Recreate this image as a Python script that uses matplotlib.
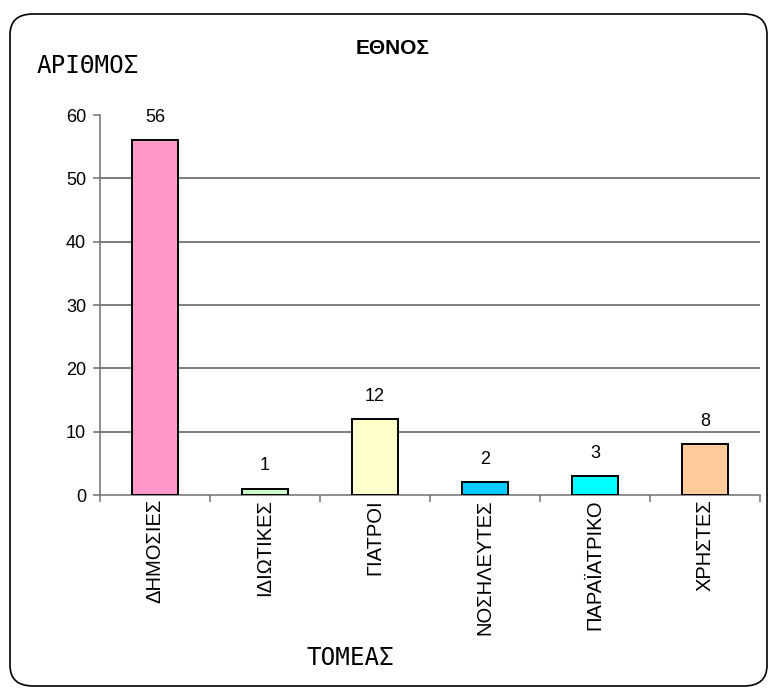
import matplotlib
matplotlib.use("Agg")
import matplotlib.pyplot as plt
from matplotlib.patches import FancyBboxPatch

# Données
categories = ["ΔΗΜΟΣΙΕΣ", "ΙΔΙΩΤΙΚΕΣ", "ΓΙΑΤΡΟΙ", "ΝΟΣΗΛΕΥΤΕΣ", "ΠΑΡΑΪΑΤΡΙΚΟ", "ΧΡΗΣΤΕΣ"]
valeurs = [56, 1, 12, 2, 3, 8]
couleurs = ["#FF99CC", "#CCFFCC", "#FFFFCC", "#00CCFF", "#00FFFF", "#FFCC99"]
yticks = [0, 10, 20, 30, 40, 50, 60]

W, H = 771, 688
fig = plt.figure(figsize=(W/100, H/100), dpi=100)

# Cadre arrondi
cadre = FancyBboxPatch((10/W, 2/H), 757/W, 672/H,
                       boxstyle="round,pad=0,rounding_size=0.03",
                       transform=fig.transFigure, facecolor="white",
                       edgecolor="black", linewidth=1.2, zorder=-10)
fig.patches.append(cadre)

ax = fig.add_axes([100/W, 1 - 495/H, 660/W, 380/H])
ax.set_facecolor("none")
ax.set_zorder(5)

x = range(len(categories))
ax.bar(x, valeurs, width=0.41, color=couleurs, edgecolor="black", linewidth=1.4, zorder=3)

for i, v in enumerate(valeurs):
    ax.annotate(str(v), (i, v), xytext=(0, 16.5), textcoords="offset points",
                ha="center", va="center", fontsize=13, family="Liberation Sans")

ax.set_xlim(-0.5, len(categories) - 0.5)
ax.set_ylim(0, 60)
ax.set_yticks(yticks)
ax.set_yticklabels([str(t) for t in yticks], fontsize=13, family="Liberation Sans")
for t in yticks[1:-1]:
    ax.axhline(t, color="#5a5a5a", linewidth=1.1, zorder=1)

ax.set_xticks([i - 0.5 for i in range(len(categories) + 1)])
ax.set_xticklabels([])
ax.tick_params(axis="x", length=5, width=1.1, color="#707070", direction="out")
ax.tick_params(axis="y", length=5, width=1.1, color="#707070", direction="out", pad=5)
for i, c in enumerate(categories):
    ax.annotate(c, (i, 0), xytext=(0, -3), textcoords="offset points",
                rotation=90, ha="center", va="top",
                fontsize=14.5, family="Liberation Sans")

for s in ["top", "right"]:
    ax.spines[s].set_visible(False)
ax.spines["left"].set_color("#707070")
ax.spines["bottom"].set_color("#707070")
ax.spines["left"].set_linewidth(1.1)
ax.spines["bottom"].set_linewidth(1.1)

fig.text(393/W, 1 - 48/H, "ΕΘΝΟΣ", ha="center", va="center",
         fontsize=15, fontweight="bold", family="Liberation Sans")
fig.text(37/W, 1 - 66/H, "ΑΡΙΘΜΟΣ", ha="left", va="center",
         fontsize=17.5, family="DejaVu Sans Mono")
fig.text(350/W, 1 - 658/H, "ΤΟΜΕΑΣ", ha="center", va="center",
         fontsize=17.5, family="DejaVu Sans Mono")

fig.savefig("out.png", dpi=100)
